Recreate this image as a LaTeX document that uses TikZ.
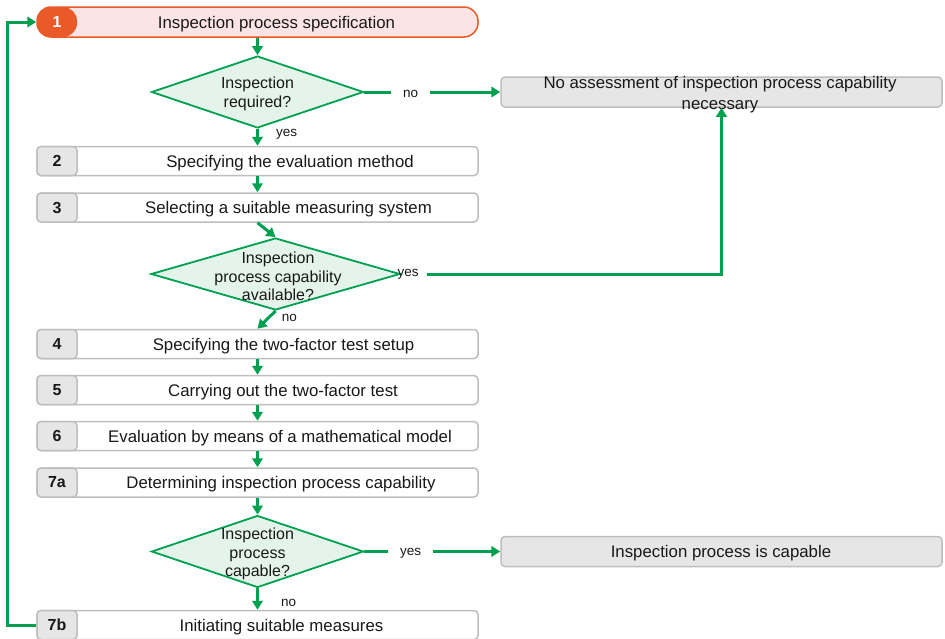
\documentclass[tikz,border=0pt]{standalone}
\usepackage{fontspec}
\setmainfont{Liberation Sans}
\usetikzlibrary{shapes.geometric,arrows.meta}

\definecolor{flowgreen}{RGB}{0,160,80}
\definecolor{decfill}{RGB}{228,244,235}
\definecolor{boxline}{RGB}{190,190,190}
\definecolor{badgefill}{RGB}{230,230,230}
\definecolor{startfill}{RGB}{253,228,228}
\definecolor{startline}{RGB}{234,90,40}
\definecolor{txt}{RGB}{25,25,25}

\tikzset{
  procbox/.style={draw=boxline, line width=1.5pt, rounded corners=4pt, fill=white, minimum width=441pt, minimum height=29pt, inner sep=0pt},
  badge/.style={draw=boxline, line width=1.5pt, rounded corners=4pt, fill=badgefill, minimum width=40pt, minimum height=29pt, inner sep=0pt, text=txt, font=\fontsize{16}{19}\selectfont\bfseries},
  boxtext/.style={inner sep=0pt, yshift=-2pt, text=txt, font=\fontsize{16.8}{20}\selectfont},
  decision/.style={diamond, draw=flowgreen, line width=1.8pt, fill=decfill, minimum width=212pt, minimum height=72pt, inner sep=0pt},
  dectext/.style={align=center, inner sep=0pt, yshift=-2pt, text=txt, font=\fontsize{16}{18.5}\selectfont},
  result/.style={draw=boxline, line width=1.5pt, rounded corners=4pt, fill=badgefill, minimum width=441pt, minimum height=30pt, inner sep=0pt},
  flow/.style={draw=flowgreen, line width=3pt, -{Triangle[length=9pt,width=10.5pt]}},
  lbl/.style={inner sep=0pt, text=txt, font=\fontsize{13.5}{16}\selectfont},
}

\begin{document}
\begin{tikzpicture}[x=1pt,y=1pt,yscale=-1,xscale=1]
\useasboundingbox (0,0) rectangle (945,638);

%Shape: start box 1
\node[draw=startline, line width=1.5pt, fill=startfill, rounded corners=14pt, minimum width=441pt, minimum height=30pt, inner sep=0pt] (b1) at (257.5,22) {};
\node[fill=startline, rounded corners=14pt, minimum width=40pt, minimum height=30pt, inner sep=0pt, text=white, font=\fontsize{16}{19}\selectfont\bfseries] (n1) at (57,22) {1};
% Text Node
\node[boxtext] (t1) at (276.5,22) {Inspection process specification};

%Shape: decision required
\node[decision] (d1) at (257.5,92) {};
\node[dectext] (d1t) at (257.5,92) {Inspection\\required?};

%Shape: result box no assessment
\node[result] (r1) at (721.5,92) {};
\node[boxtext, align=center, font=\fontsize{16.8}{21}\selectfont] (r1t) at (720,92.5) {No assessment of inspection process capability\\necessary};

%Shape: box 2
\node[procbox] (b2) at (257.5,161) {};
\node[badge] (n2) at (57,161) {2};
\node[boxtext] (t2) at (290,161) {Specifying the evaluation method};

%Shape: box 3
\node[procbox] (b3) at (257.5,207.5) {};
\node[badge] (n3) at (57,207.5) {3};
\node[boxtext] (t3) at (288.5,207.5) {Selecting a suitable measuring system};

%Shape: decision capability available
\node[decision, minimum width=249pt] (d2) at (275.5,274) {};
\node[dectext] (d2t) at (278,274.5) {Inspection\\process capability\\available?};

%Shape: box 4
\node[procbox] (b4) at (257.5,344) {};
\node[badge] (n4) at (57,344) {4};
\node[boxtext] (t4) at (283.5,344) {Specifying the two-factor test setup};

%Shape: box 5
\node[procbox] (b5) at (257.5,390) {};
\node[badge] (n5) at (57,390) {5};
\node[boxtext] (t5) at (283,390) {Carrying out the two-factor test};

%Shape: box 6
\node[procbox] (b6) at (257.5,436) {};
\node[badge] (n6) at (57,436) {6};
\node[boxtext] (t6) at (280,436) {Evaluation by means of a mathematical model};

%Shape: box 7a
\node[procbox] (b7a) at (257.5,482.5) {};
\node[badge] (n7a) at (57,482.5) {7a};
\node[boxtext] (t7a) at (281,482.5) {Determining inspection process capability};

%Shape: decision capable
\node[decision] (d3) at (257.5,551.5) {};
\node[dectext] (d3t) at (257.5,552) {Inspection\\process\\capable?};

%Shape: result box capable
\node[result] (r2) at (721.5,551.5) {};
\node[boxtext] (r2t) at (721,551.5) {Inspection process is capable};

%Shape: box 7b
\node[procbox] (b7b) at (257.5,625) {};
\node[badge] (n7b) at (57,625) {7b};
\node[boxtext] (t7b) at (281.5,625.5) {Initiating suitable measures};

%Straight Lines
\draw[flow] (b1.south) -- (d1.north);
\draw[flow] (d1.east) -- node[lbl, fill=white, inner xsep=12pt, pos=0.34, yshift=-1.5pt] {no} (r1.west);
\draw[flow] (d1.south) -- node[lbl, anchor=west, xshift=17pt, pos=0.3] {yes} (b2.north);
\draw[flow] (b2.south) -- (b3.north);
\draw[flow] (b3.south) -- (d2.north);
\node[lbl, inner xsep=8pt] (y2) at (408,274) {yes};
\draw[flow] (y2.east) -| (r1.south);
\draw[flow] (d2.south) -- node[lbl, anchor=west, xshift=12pt, pos=0.4] {no} (b4.north);
\draw[flow] (b4.south) -- (b5.north);
\draw[flow] (b5.south) -- (b6.north);
\draw[flow] (b6.south) -- (b7a.north);
\draw[flow] (b7a.south) -- (d3.north);
\draw[flow] (d3.east) -- node[lbl, fill=white, inner xsep=12pt, pos=0.34, yshift=-1.5pt] {yes} (r2.west);
\draw[flow] (d3.south) -- node[lbl, anchor=west, xshift=22pt, pos=0.7] {no} (b7b.north);
\draw[flow] (b7b.west) -- ++(-29,0) |- (b1.west);

\end{tikzpicture}
\end{document}
